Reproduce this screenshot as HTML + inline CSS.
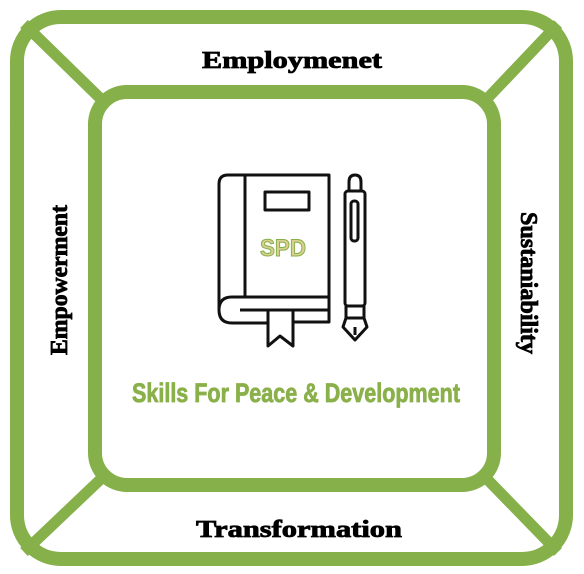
<!DOCTYPE html>
<html><head><meta charset="utf-8"><style>
html,body{margin:0;padding:0;background:#fff;width:584px;height:574px;overflow:hidden}
</style></head><body>
<svg width="584" height="574" viewBox="0 0 584 574">
  <g stroke="#86b049" stroke-width="11" stroke-linecap="butt">
    <line x1="24" y1="24" x2="104" y2="102"/>
    <line x1="558" y1="24" x2="484" y2="102"/>
    <line x1="24" y1="552" x2="104" y2="476"/>
    <line x1="558" y1="552" x2="484" y2="476"/>
  </g>
  <rect x="17" y="17" width="549" height="542" rx="44" fill="none" stroke="#86b049" stroke-width="14"/>
  <rect x="95" y="92" width="399" height="393" rx="32" fill="#fff" stroke="#86b049" stroke-width="14"/>

  <g font-family="'Liberation Serif',serif" font-weight="bold" font-size="24" fill="#000" stroke="#000" stroke-width="0.8" text-anchor="middle">
    <text x="292" y="68" textLength="180" lengthAdjust="spacingAndGlyphs">Employmenet</text>
    <text x="299" y="537" textLength="206" lengthAdjust="spacingAndGlyphs">Transformation</text>
    <text transform="translate(67,280) rotate(-90)" textLength="150" lengthAdjust="spacingAndGlyphs">Empowerment</text>
    <text transform="translate(521,283) rotate(90)" textLength="142" lengthAdjust="spacingAndGlyphs">Sustaniability</text>
  </g>

  <g fill="none" stroke="#111" stroke-width="3" stroke-linejoin="round">
    <path d="M228,175 H329 V322 H293"/>
    <path d="M228,175 Q219,175 219,184 V310"/>
    <line x1="245" y1="176" x2="245" y2="296"/>
    <path d="M329,297 H232 Q219,297 219,310 Q219,323 232,323 H268"/>
    <line x1="240" y1="310" x2="329" y2="310"/>
    <rect x="265" y="192" width="44" height="18"/>
    <path d="M268,310 V346 L280,336 L293,346 V310"/>
  </g>
  <text x="283" y="256" font-family="'Liberation Sans Narrow','Liberation Sans',sans-serif" font-weight="bold" font-size="24" fill="#d9cf8e" stroke="#86b049" stroke-width="1" text-anchor="middle" textLength="46" lengthAdjust="spacingAndGlyphs">SPD</text>
  <g fill="none" stroke="#111" stroke-width="3" stroke-linejoin="round">
    <path d="M349,191 V182 Q349,175 355,175 Q361,175 361,182 V191"/>
    <rect x="345" y="191" width="20" height="115" rx="3"/>
    <rect x="351" y="201" width="7" height="40" rx="3"/>
    <path d="M346,306 V318 H364 V306"/>
    <path d="M346,318 L343,327 L355,340 L367,327 L364,318"/>
    <line x1="355" y1="327" x2="355" y2="335"/>
  </g>
  <text x="296" y="402" font-family="'Liberation Sans Narrow','Liberation Sans',sans-serif" font-weight="bold" font-size="27" fill="#8ab04a" stroke="#8ab04a" stroke-width="0.8" text-anchor="middle" textLength="328" lengthAdjust="spacingAndGlyphs">Skills For Peace &amp; Development</text>
</svg>
</body></html>
